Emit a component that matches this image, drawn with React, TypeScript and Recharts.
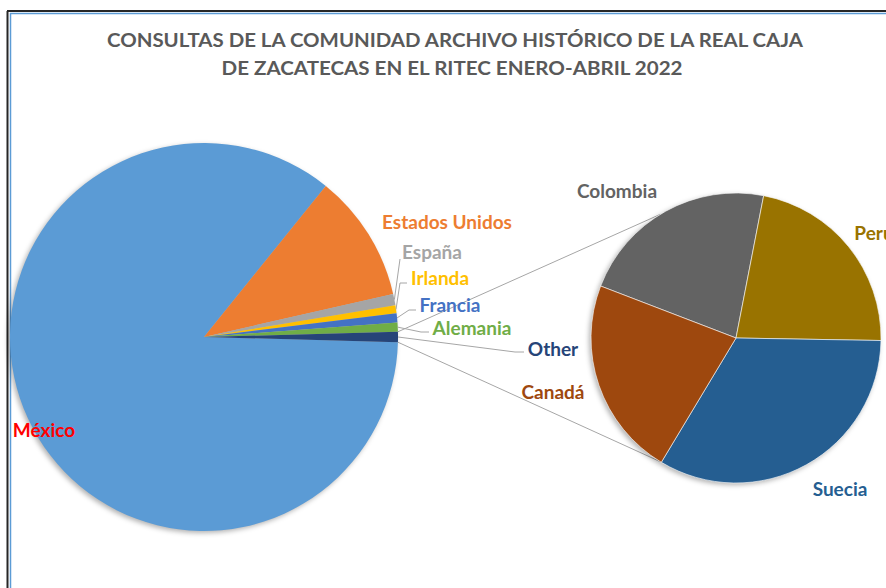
import { PieChart, Pie, Cell } from 'recharts'

// consultas por país (main pie) and the split-off "Other" group (secondary pie)
const mainNames = ['México', 'Estados Unidos', 'España', 'Irlanda', 'Francia', 'Alemania']
const mainValues = [899, 112, 10, 7, 8, 8]
const otherNames = ['Colombia', 'Peru', 'Suecia', 'Canadá']
const otherValues = [2, 2, 3, 2]

const MAIN_COLORS = ['#5B9BD5', '#ED7D31', '#A5A5A5', '#FFC000', '#4472C4', '#70AD47', '#264478']
const OTHER_COLORS = ['#636363', '#997300', '#255E91', '#9E480E']
const LABEL_COLORS: Record<string, string> = {
  'México': '#FF0000',
  'Estados Unidos': '#ED7D31',
  'España': '#A5A5A5',
  'Irlanda': '#FFC000',
  'Francia': '#4472C4',
  'Alemania': '#70AD47',
  'Other': '#264478',
  'Colombia': '#636363',
  'Peru': '#997300',
  'Suecia': '#255E91',
  'Canadá': '#9E480E',
}

// label placement (text centre) and leader elbows, as laid out in the original sheet
const labelAt: Record<string, [number, number]> = {
  'México': [44, 429],
  'Estados Unidos': [447, 221],
  'España': [432, 251],
  'Irlanda': [440, 277],
  'Francia': [450, 304],
  'Alemania': [472, 327],
  'Other': [553, 348],
  'Canadá': [553, 391],
  'Colombia': [617, 190],
  'Peru': [874, 232],
  'Suecia': [840, 488],
}
const leaders: Record<string, [number, number][]> = {
  'España': [[400, 259]],
  'Irlanda': [[400, 283], [407, 283]],
  'Francia': [[409, 310], [416, 310]],
  'Alemania': [[421, 332], [429, 332]],
  'Other': [[515, 352], [524, 352]],
}

const W = 886
const H = 588
const MAIN = { cx: 204, cy: 337, r: 194 }
const SEC = { cx: 736, cy: 338, r: 145 }
const FONT = "Lato, 'Open Sans', sans-serif"

const otherTotal = otherValues.reduce((a, b) => a + b, 0)
const mainData = [
  ...mainNames.map((name, i) => ({ name, value: mainValues[i] })),
  { name: 'Other', value: otherTotal },
]
const secData = otherNames.map((name, i) => ({ name, value: otherValues[i] }))
const total = mainData.reduce((a, d) => a + d.value, 0)
// "Other" slice centred on 3 o'clock, slices run clockwise
const otherHalf = (otherTotal / 2 / total) * 360
const mainStart = 360 - otherHalf
const secStart = 159

const RAD = Math.PI / 180
const polar = (cx: number, cy: number, r: number, a: number) => [cx + r * Math.cos(a * RAD), cy - r * Math.sin(a * RAD)]

function renderLabel(p: any) {
  const pos = labelAt[p.name]
  if (!pos) return null
  const [sx, sy] = polar(p.cx, p.cy, p.outerRadius, p.midAngle)
  const lead = leaders[p.name]
  return (
    <g>
      {lead && (
        <polyline
          points={[[sx, sy], ...lead].map((q) => q.join(',')).join(' ')}
          fill="none"
          stroke="#A6A6A6"
          strokeWidth={1}
        />
      )}
      <text
        x={pos[0]}
        y={pos[1]}
        textAnchor="middle"
        dominantBaseline="central"
        fill={LABEL_COLORS[p.name]}
        fontFamily={FONT}
        fontWeight="bold"
        fontSize={19}
      >
        {p.name}
      </text>
    </g>
  )
}

export default function App() {
  const [ux, uy] = polar(MAIN.cx, MAIN.cy, MAIN.r, otherHalf)
  const [lx, ly] = polar(MAIN.cx, MAIN.cy, MAIN.r, -otherHalf)
  const [sux, suy] = polar(SEC.cx, SEC.cy, SEC.r, 121.5)
  const [slx, sly] = polar(SEC.cx, SEC.cy, SEC.r, -121.5)

  return (
    <div style={{ position: 'absolute', left: 0, top: 0, width: W, height: H, background: '#fff', overflow: 'hidden' }}>
      <svg width={W} height={H} style={{ position: 'absolute', left: 0, top: 0 }}>
        <line x1={7.5} y1={11} x2={7.5} y2={H} stroke="#262626" strokeWidth={2} />
        <line x1={7} y1={11} x2={W} y2={11} stroke="#262626" strokeWidth={2} />
        <line x1={10.5} y1={13} x2={10.5} y2={H} stroke="#5B9BD5" strokeWidth={1.5} />
        <line x1={10} y1={13.5} x2={W} y2={13.5} stroke="#5B9BD5" strokeWidth={1.5} />
        <text x={455} y={47} textAnchor="middle" fill="#595959" fontFamily={FONT} fontWeight="bold" fontSize={19}
          textLength={696} lengthAdjust="spacingAndGlyphs">
          CONSULTAS DE LA COMUNIDAD ARCHIVO HISTÓRICO DE LA REAL CAJA
        </text>
        <text x={452} y={75} textAnchor="middle" fill="#595959" fontFamily={FONT} fontWeight="bold" fontSize={19}
          textLength={461} lengthAdjust="spacingAndGlyphs">
          DE ZACATECAS EN EL RITEC ENERO-ABRIL 2022
        </text>
        <line x1={ux} y1={uy} x2={sux} y2={suy} stroke="#A6A6A6" strokeWidth={1} />
        <line x1={lx} y1={ly} x2={slx} y2={sly} stroke="#A6A6A6" strokeWidth={1} />
      </svg>
      <div style={{ position: 'absolute', left: 0, top: 0 }}>
        <PieChart width={W} height={H} margin={{ top: 0, right: 0, bottom: 0, left: 0 }}>
          <defs>
            <filter id="soft" x="-20%" y="-20%" width="140%" height="140%">
              <feGaussianBlur stdDeviation={2.5} />
            </filter>
          </defs>
          <Pie data={mainData} dataKey="value" nameKey="name" cx={MAIN.cx - 2} cy={MAIN.cy + 2} outerRadius={MAIN.r}
            startAngle={mainStart} endAngle={mainStart - 360} stroke="none" isAnimationActive={false} labelLine={false}>
            {mainData.map((_, i) => <Cell key={i} fill="#000" fillOpacity={0.3} filter="url(#soft)" />)}
          </Pie>
          <Pie data={secData} dataKey="value" nameKey="name" cx={SEC.cx - 2} cy={SEC.cy + 2} outerRadius={SEC.r}
            startAngle={secStart} endAngle={secStart - 360} stroke="none" isAnimationActive={false} labelLine={false}>
            {secData.map((_, i) => <Cell key={i} fill="#000" fillOpacity={0.3} filter="url(#soft)" />)}
          </Pie>
          <Pie data={mainData} dataKey="value" nameKey="name" cx={MAIN.cx} cy={MAIN.cy} outerRadius={MAIN.r}
            startAngle={mainStart} endAngle={mainStart - 360} stroke="none" isAnimationActive={false}
            labelLine={false} label={renderLabel}>
            {mainData.map((_, i) => <Cell key={i} fill={MAIN_COLORS[i % MAIN_COLORS.length]} />)}
          </Pie>
          <Pie data={secData} dataKey="value" nameKey="name" cx={SEC.cx} cy={SEC.cy} outerRadius={SEC.r}
            startAngle={secStart} endAngle={secStart - 360} stroke="#fff" strokeWidth={0.6} isAnimationActive={false}
            labelLine={false} label={renderLabel}>
            {secData.map((_, i) => <Cell key={i} fill={OTHER_COLORS[i % OTHER_COLORS.length]} />)}
          </Pie>
        </PieChart>
      </div>
    </div>
  )
}
